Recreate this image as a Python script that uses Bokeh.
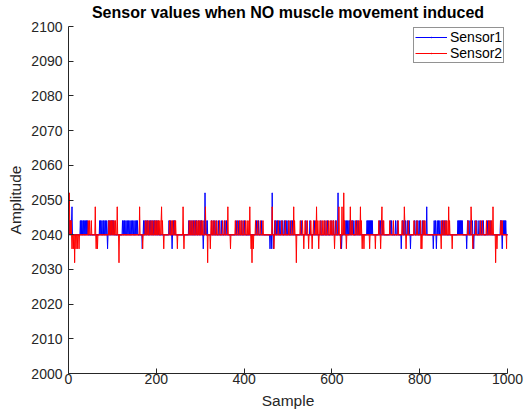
import numpy as np
from bokeh.plotting import figure
from bokeh.models import Legend, LegendItem, Range1d, FixedTicker
from bokeh.embed import file_html
from bokeh.resources import INLINE

N_SAMPLES = 1000
BASELINE = 2040

# Sensor1 (blue): sample numbers at each non-baseline level
s1_2044 = [1, 3, 5, 7, 27, 29, 31, 34, 36, 39, 41, 43,
           71, 73, 76, 79, 81, 84, 87, 91, 94, 97, 100, 103,
           123, 126, 128, 131, 134, 137, 140, 143, 146, 149, 152, 155, 157,
           171, 174, 177, 180, 184, 187, 190, 193, 196, 200, 204,
           229, 232, 239, 242,
           274, 277, 281, 285, 289, 292, 296, 300, 303, 309, 313, 316,
           326, 331, 336, 342, 348, 355, 360, 382, 388, 395, 401,
           428, 433, 440, 470, 473, 476, 480, 484, 488, 492, 496, 500, 505, 510,
           530, 541, 550, 560, 575, 584, 590, 598, 603, 608,
           627, 630, 633, 636, 639, 641, 644, 647, 650, 656, 660,
           680, 682, 684, 686, 688, 690, 692, 708, 711, 716,
           733, 736, 745, 749, 761, 764, 768, 772, 776,
           788, 792, 796, 800, 806, 810,
           833, 836, 840, 843, 846, 852, 856, 860,
           887, 889, 891, 893, 895, 897,
           909, 912, 915, 920, 926, 930, 935, 940, 945,
           954, 958, 962, 984, 986, 990, 992, 994, 996]
s1_2048 = [8, 816]
s1_2052 = [311, 464, 614]
s1_2036 = [89, 168, 236, 307, 459, 463, 467, 622, 758, 779, 831, 838, 907, 923, 988]
s1_2032 = []

# Sensor2 (red)
s2_2044 = [1, 4, 6, 45, 48, 52,
           92, 95, 98, 101, 104, 107,
           175, 179, 183, 188, 192, 197, 199, 202, 205, 208, 211, 214,
           230, 234, 237, 241, 244,
           275, 279, 283, 287, 291, 295, 298, 302, 306,
           325, 329, 333, 338, 344, 351, 357,
           380, 385, 390, 393, 398, 403, 407, 411,
           426, 431, 437, 443,
           471, 478, 486, 494, 502, 508, 515,
           528, 533, 539, 544, 552, 558, 563, 568, 573, 578, 582, 587, 592, 596, 600, 604, 610,
           629, 646, 654, 658, 662, 667,
           707, 713, 718, 732, 740, 751, 760, 766, 774,
           787, 794, 802, 808, 812,
           850, 854, 858, 862, 868,
           910, 918, 928, 938, 943,
           952, 957, 960, 964, 985, 988]
s2_2048 = [61, 111, 162, 212, 261, 312, 363, 413, 464, 513, 565, 616, 623,
           642, 665, 714, 765, 866, 917, 967]
s2_2052 = [2, 627]
s2_2036 = [8, 11, 17, 20, 24, 63, 66, 169, 217, 248, 263, 323, 369, 416, 421,
           468, 536, 547, 555, 570, 606, 620, 633, 669, 673, 686, 699, 711,
           769, 803, 805, 849, 874, 921, 976, 998]
s2_2032 = [14, 115, 317, 418, 519, 973]

x_ticks = [0, 200, 400, 600, 800, 1000]
y_ticks = [2000, 2010, 2020, 2030, 2040, 2050, 2060, 2070, 2080, 2090, 2100]

sample = np.arange(1, N_SAMPLES + 1)


def build(levels):
    arr = np.full(N_SAMPLES, BASELINE, dtype=float)
    for level, idx in levels:
        for i in idx:
            arr[i - 1] = level
    return arr


sensor1 = build([(2044, s1_2044), (2048, s1_2048), (2052, s1_2052),
                 (2036, s1_2036), (2032, s1_2032)])
sensor2 = build([(2044, s2_2044), (2048, s2_2048), (2052, s2_2052),
                 (2036, s2_2036), (2032, s2_2032)])

FONT = "Liberation Sans"
AX = "#262626"

p = figure(width=527, height=417, output_backend="svg", toolbar_location=None,
           x_range=Range1d(0, 1000), y_range=Range1d(2000, 2100),
           min_border_left=68, min_border_right=20, min_border_top=23,
           min_border_bottom=44)
p.title.text = "Sensor values when NO muscle movement induced"
p.title.text_font = FONT
p.title.text_font_size = "16px"
p.title.text_font_style = "bold"
p.title.text_color = "#000000"
p.title.align = "center"
p.title.vertical_align = "top"
p.title.standoff = 7

p.outline_line_color = None
p.grid.visible = False
p.background_fill_color = "white"
p.border_fill_color = "white"

for ax in (p.xaxis[0], p.yaxis[0]):
    ax.axis_line_color = AX
    ax.major_tick_line_color = AX
    ax.major_tick_in = 5
    ax.major_tick_out = 0
    ax.minor_tick_line_color = None
    ax.major_label_text_font = FONT
    ax.major_label_text_font_size = "14px"
    ax.major_label_text_color = AX
    ax.axis_label_text_font = FONT
    ax.axis_label_text_font_size = "15.5px"
    ax.axis_label_text_font_style = "normal"
    ax.axis_label_text_color = AX

p.xaxis.ticker = FixedTicker(ticks=x_ticks)
p.yaxis.ticker = FixedTicker(ticks=y_ticks)
p.xaxis.axis_label = "Sample"
p.yaxis.axis_label = "Amplitude"
p.xaxis.major_label_standoff = 0
p.yaxis.major_label_standoff = 6
p.xaxis.axis_label_standoff = 5
p.yaxis.axis_label_standoff = 4

l1 = p.line(sample, sensor1, line_color="#0000ff", line_width=1)
m1 = p.scatter(sample, sensor1, marker="dot", size=4, color="#0000ff")
l2 = p.line(sample, sensor2, line_color="#ff0000", line_width=1)
m2 = p.scatter(sample, sensor2, marker="dot", size=4, color="#ff0000")

legend = Legend(items=[LegendItem(label="Sensor1", renderers=[l1, m1]),
                       LegendItem(label="Sensor2", renderers=[l2, m2])],
                location=(345, 310))
legend.label_text_font = FONT
legend.label_text_font_size = "14px"
legend.label_text_color = "#000000"
legend.glyph_width = 32
legend.glyph_height = 16
legend.label_height = 16
legend.label_standoff = 3
legend.padding = 1
legend.spacing = 0
legend.margin = 0
legend.border_line_color = AX
legend.border_line_width = 1
legend.background_fill_alpha = 1
p.add_layout(legend, "center")

with open("out.html", "w") as f:
    f.write(file_html(p, INLINE))
